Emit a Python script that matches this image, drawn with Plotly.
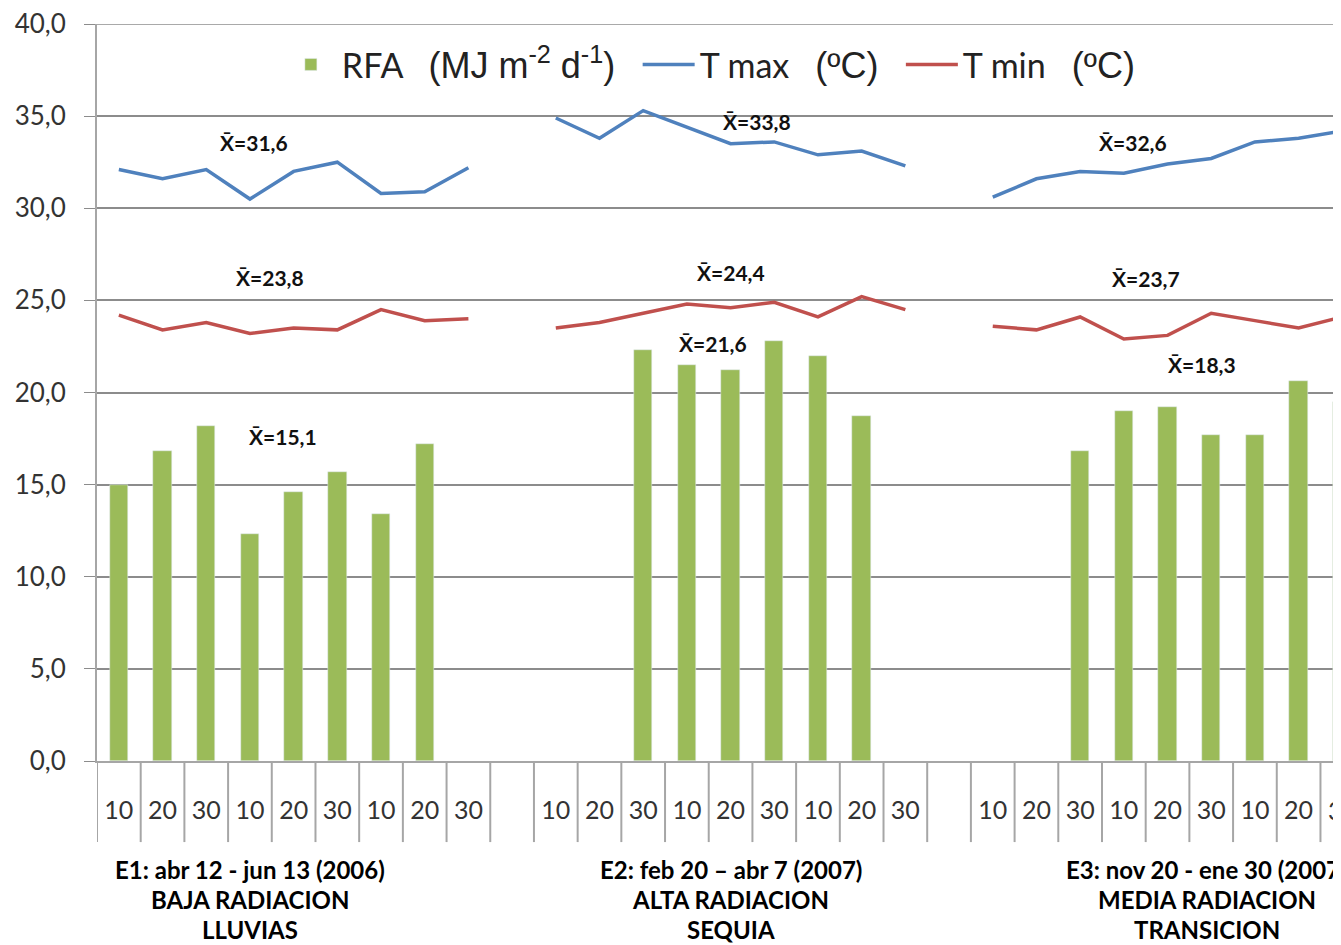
import plotly.graph_objects as go

# ---------------- data ----------------
group_ticks = ["10", "20", "30", "10", "20", "30", "10", "20", "30"]

rfa_e1 = [15.0, 16.8, 18.2, 12.3, 14.6, 15.7, 13.4, 17.2, None]
rfa_e2 = [None, None, 22.3, 21.5, 21.2, 22.8, 22.0, 18.7, None]
rfa_e3 = [None, None, 16.8, 19.0, 19.2, 17.7, 17.7, 20.6, 19.5]

tmax_e1 = [32.1, 31.6, 32.1, 30.5, 32.0, 32.5, 30.8, 30.9, 32.2]
tmax_e2 = [34.9, 33.8, 35.3, 34.4, 33.5, 33.6, 32.9, 33.1, 32.3]
tmax_e3 = [30.6, 31.6, 32.0, 31.9, 32.4, 32.7, 33.6, 33.8, 34.2]

tmin_e1 = [24.2, 23.4, 23.8, 23.2, 23.5, 23.4, 24.5, 23.9, 24.0]
tmin_e2 = [23.5, 23.8, 24.3, 24.8, 24.6, 24.9, 24.1, 25.2, 24.5]
tmin_e3 = [23.6, 23.4, 24.1, 22.9, 23.1, 24.3, 23.9, 23.5, 24.1]

y_ticks = [0, 5, 10, 15, 20, 25, 30, 35, 40]

group_titles = [
    ["E1: abr 12 - jun 13 (2006)", "BAJA RADIACION", "LLUVIAS"],
    ["E2: feb 20 \u2013 abr 7 (2007)", "ALTA RADIACION", "SEQUIA"],
    ["E3: nov 20 - ene 30 (2007)", "MEDIA RADIACION", "TRANSICION"],
]
group_title_x = [3.0, 14.0, 24.9]

# mean labels: (text, x index, y value)
mean_labels = [
    ("31,6", 3.1, 33.55), ("23,8", 3.45, 26.25), ("15,1", 3.75, 17.6),
    ("33,8", 14.6, 34.7), ("24,4", 14.0, 26.5), ("21,6", 13.6, 22.65),
    ("32,6", 23.2, 33.55), ("23,7", 23.5, 26.2), ("18,3", 24.8, 21.5),
]

# ---------------- layout helpers ----------------
n_per_group = len(group_ticks)
gap = 1
starts = [0, n_per_group + gap, 2 * (n_per_group + gap)]

def positions(start):
    return [start + i for i in range(n_per_group)]

x_all = []
rfa_all, tmax_all, tmin_all = [], [], []
for s, r, tx, tn in zip(starts, [rfa_e1, rfa_e2, rfa_e3],
                        [tmax_e1, tmax_e2, tmax_e3], [tmin_e1, tmin_e2, tmin_e3]):
    x_all += positions(s) + [s + n_per_group]
    rfa_all += r + [None]
    tmax_all += tx + [None]
    tmin_all += tn + [None]

tickvals = []
ticktext = []
for s in starts:
    tickvals += positions(s)
    ticktext += group_ticks

GREEN = "#9BBB59"
BLUE = "#4F81BD"
RED = "#C0504D"
GRID = "#8c8c8c"
SEP = "#a6a6a6"
XMIN, XMAX = -0.5, 27.97
NBSP = "\u00a0"

fig = go.Figure()
unit_open = "<span style='font-family:Liberation Sans, Arial; font-size:36px'>"
fig.add_trace(go.Bar(
    x=x_all, y=rfa_all, width=0.42, marker_color=GREEN,
    name="RFA" + NBSP * 3 + unit_open + "(MJ m<sup>-2</sup> d<sup>-1</sup>)</span>" + NBSP * 2,
))
fig.add_trace(go.Scatter(
    x=x_all, y=tmax_all, mode="lines", line=dict(color=BLUE, width=3.5),
    connectgaps=False,
    name="T max" + NBSP * 3 + unit_open + "(\u00baC)</span>" + NBSP * 2,
))
fig.add_trace(go.Scatter(
    x=x_all, y=tmin_all, mode="lines", line=dict(color=RED, width=3.5),
    connectgaps=False,
    name="T min" + NBSP * 3 + unit_open + "(\u00baC)</span>",
))

# top gridline + category separators below the axis
shapes = [dict(type="line", xref="paper", yref="y", x0=0, x1=1,
               y0=y_ticks[-1], y1=y_ticks[-1], line=dict(color=GRID, width=1.5))]
for b in range(0, 30):
    shapes.append(dict(type="line", xref="x", yref="paper",
                       x0=b - 0.5, x1=b - 0.5, y0=0, y1=-0.11,
                       line=dict(color=SEP, width=2)))
annotations = []
for lines, gx in zip(group_titles, group_title_x):
    for k, t in enumerate(lines):
        annotations.append(dict(
            text="<b>%s</b>" % t, xref="x", yref="paper", x=gx,
            y=-0.147 - 0.041 * k, showarrow=False, xanchor="center",
            yanchor="middle", font=dict(family="Lato", size=24, color="#000000")))
for t, mx, my in mean_labels:
    annotations.append(dict(
        text="<b>X\u0304=%s</b>" % t, xref="x", yref="y", x=mx, y=my,
        showarrow=False, xanchor="center", yanchor="middle",
        font=dict(family="Lato", size=21, color="#111111")))
# the last, partly visible tick label (category 28, just past the visible range)
last_cat = 28
annotations.append(dict(
    text="30", xref="paper", yref="paper",
    x=(last_cat - XMIN) / (XMAX - XMIN), y=-0.0665, showarrow=False,
    xanchor="center", yanchor="middle",
    font=dict(family="Lato", size=25, color="#333333")))

fig.update_layout(
    width=1333, height=937,
    margin=dict(l=89, r=0, t=16, b=184),
    paper_bgcolor="white", plot_bgcolor="white",
    separators=",.",
    bargap=0,
    showlegend=True,
    legend=dict(orientation="h", x=0.147, y=0.984, xanchor="left", yanchor="top",
                font=dict(family="Lato", size=34, color="#222222"),
                bgcolor="rgba(0,0,0,0)", itemwidth=52, tracegroupgap=0),
    xaxis=dict(range=[XMIN, XMAX], tickvals=tickvals, ticktext=ticktext,
               showgrid=False, zeroline=False, showline=True, linecolor=SEP,
               linewidth=2, ticks="outside", ticklen=26,
               tickcolor="rgba(0,0,0,0)",
               tickfont=dict(family="Lato", size=25, color="#333333")),
    yaxis=dict(range=[y_ticks[0], y_ticks[-1]], tickvals=y_ticks, tickformat=".1f",
               showgrid=True, gridcolor=GRID, gridwidth=1.5,
               zeroline=False, showline=True, linecolor=SEP, linewidth=2,
               ticks="outside", ticklen=11, tickcolor=GRID,
               ticklabelstandoff=13, ticklabeloverflow="allow",
               tickfont=dict(family="Lato", size=26, color="#333333")),
    shapes=shapes,
    annotations=annotations,
)

fig.write_html("out.html")
